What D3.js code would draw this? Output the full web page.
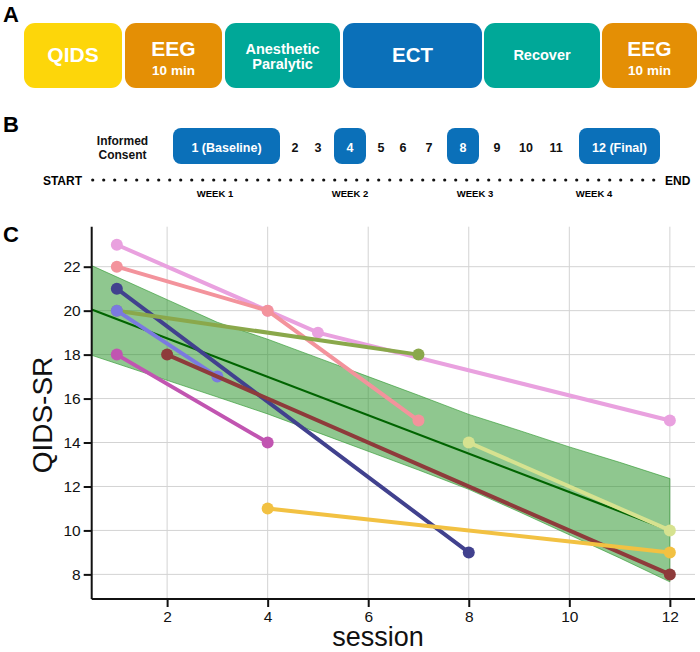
<!DOCTYPE html>
<html><head><meta charset="utf-8">
<script src="https://cdn.jsdelivr.net/npm/d3@7"></script>
<style>body{margin:0;background:#fff}svg{display:block}text{font-family:"Liberation Sans",Arial,sans-serif}</style>
</head><body><svg id="c" width="700" height="652"></svg>
<script>
// ---- Panel A: protocol steps
const stepLabels = [["QIDS"],["EEG","10 min"],["Anesthetic","Paralytic"],["ECT"],["Recover"],["EEG","10 min"]];
const stepColors = ["#fdd60a","#e48f05","#00a898","#0b70b9","#00a898","#e48f05"];
// ---- Panel B: schedule
const sessionLabels = ["1 (Baseline)","2","3","4","5","6","7","8","9","10","11","12 (Final)"];
const qidsSessions = ["1 (Baseline)","4","8","12 (Final)"];
const weekLabels = ["WEEK 1","WEEK 2","WEEK 3","WEEK 4"];
// ---- Panel C: data
const subjectSessions = [[1,4,5,12],[1,4,7],[1,8],[1,7],[1,3],[1,4],[2,12],[4,12],[8,12]];
const subjectScores   = [[23,20,19,15],[22,20,15],[21,9],[20,18],[20,17],[18,14],[18,8],[11,9],[14,10]];
const subjectColors = ["#e9a1df","#f3939c","#41418e","#8aa84b","#7b79e0","#c155b1","#8e3b3b","#f2c142","#d6e290"];
const fitX = [0.5, 12];
const fitY = [20.05, 10.0];
const bandX     = [0.5, 2, 3, 4, 5, 6, 7, 8, 9, 10, 11, 12];
const bandUpper = [22.05,20.5,19.47,18.7,17.85,17.0,16.15,15.28,14.55,13.8,13.1,12.36];
const bandLower = [17.97,16.83,16.07,15.3,14.45,13.6,12.75,11.87,10.85,9.8,8.75,7.66];
const xTicks = [2,4,6,8,10,12];
const yTicks = [8,10,12,14,16,18,20,22];

const svg = d3.select("#c");
const F = '"Liberation Sans",Arial,sans-serif';

// panel letters
[["A",3,22],["B",3,132],["C",3,242]].forEach(([t,x,y])=>svg.append("text").attr("x",x).attr("y",y).attr("font-size",22).attr("font-weight","bold").text(t));

// ---- Panel A
const stepX = d3.scaleOrdinal().domain(d3.range(6)).range([24,125,225,343,484,602]);
const stepW = [98,97,115,139,116,95];
const gA = svg.append("g");
stepLabels.forEach((lab,i)=>{
  const x0 = stepX(i), w = stepW[i], cx = x0 + w/2;
  gA.append("rect").attr("x",x0).attr("y",23).attr("width",w).attr("height",65).attr("rx",11).attr("fill",stepColors[i]);
  const t = gA.append("text").attr("fill","#fff").attr("font-weight","bold").attr("text-anchor","middle");
  if (lab[0]==="EEG") {
    t.append("tspan").attr("x",cx).attr("y",56).attr("font-size",21).text(lab[0]);
    t.append("tspan").attr("x",cx).attr("y",75).attr("font-size",13.5).text(lab[1]);
  } else if (lab.length===2) {
    t.append("tspan").attr("x",cx).attr("y",53.5).attr("font-size",14.5).text(lab[0]);
    t.append("tspan").attr("x",cx).attr("y",68.5).attr("font-size",14.5).text(lab[1]);
  } else {
    const fs = lab[0]==="Recover"?14.5:(lab[0]==="ECT"?20.5:21);
    t.append("tspan").attr("x",cx).attr("y",55).attr("dy","0.35em").attr("font-size",fs).text(lab[0]);
  }
});

// ---- Panel B
const gB = svg.append("g");
const ic = gB.append("text").attr("text-anchor","middle").attr("font-size",12).attr("font-weight","bold").attr("fill","#111");
ic.append("tspan").attr("x",122.5).attr("y",145).text("Informed");
ic.append("tspan").attr("x",122.5).attr("y",158.5).text("Consent");
const sessCenter = [226.5,295,318,350,381,403,429,463,497,526,556,619.5];
const boxW = {"1 (Baseline)":107,"4":32,"8":32,"12 (Final)":81};
sessionLabels.forEach((s,i)=>{
  const cx = sessCenter[i];
  const boxed = qidsSessions.includes(s);
  if (boxed) gB.append("rect").attr("x",cx-boxW[s]/2).attr("y",128).attr("width",boxW[s]).attr("height",36).attr("rx",8).attr("fill","#0b70b9");
  gB.append("text").attr("x",cx).attr("y",151.5).attr("text-anchor","middle").attr("font-size",12.5).attr("font-weight","bold").attr("fill",boxed?"#fff":"#111").text(s);
});
gB.append("text").attr("x",82).attr("y",184.5).attr("text-anchor","end").attr("font-size",12).attr("font-weight","bold").text("START");
gB.append("text").attr("x",665).attr("y",184.5).attr("font-size",12).attr("font-weight","bold").text("END");
gB.selectAll("circle.d").data(d3.range(52)).join("circle").attr("cx",d=>92.7+d*11).attr("cy",180).attr("r",1.6).attr("fill","#111");
const weekX = [215,350,475,594];
weekLabels.forEach((w,i)=>gB.append("text").attr("x",weekX[i]).attr("y",197).attr("text-anchor","middle").attr("font-size",9.5).attr("font-weight","bold").text(w));

// ---- Panel C
const x = d3.scaleLinear().domain([0.5,12.5]).range([91.7,695]);
const y = d3.scaleLinear().domain([6.88,23.82]).range([599,226.7]);
const gC = svg.append("g");
// grid
gC.selectAll("line.gx").data(xTicks).join("line").attr("x1",d=>x(d)).attr("x2",d=>x(d)).attr("y1",y.range()[0]).attr("y2",y.range()[1]).attr("stroke","#d3d3d3").attr("stroke-width",1);
gC.selectAll("line.gy").data(yTicks).join("line").attr("y1",d=>y(d)).attr("y2",d=>y(d)).attr("x1",x.range()[0]).attr("x2",x.range()[1]).attr("stroke","#d3d3d3").attr("stroke-width",1);
// band
const area = d3.area().x(d=>x(d[0])).y0(d=>y(d[1])).y1(d=>y(d[2]));
gC.append("path").datum(bandX.map((v,i)=>[v,bandLower[i],bandUpper[i]])).attr("d",area)
  .attr("fill","#1f8f1f").attr("fill-opacity",0.5).attr("stroke","#2a962a").attr("stroke-opacity",0.6).attr("stroke-width",1);
// fit line
const line = d3.line().x(d=>x(d[0])).y(d=>y(d[1]));
gC.append("path").datum(fitX.map((v,i)=>[v,fitY[i]])).attr("d",line).attr("fill","none").attr("stroke","#006400").attr("stroke-width",2.2);
// subjects
subjectSessions.forEach((ss,k)=>{
  const pts = ss.map((s,i)=>[s,subjectScores[k][i]]);
  gC.append("path").datum(pts).attr("d",line).attr("fill","none").attr("stroke",subjectColors[k]).attr("stroke-width",4).attr("stroke-linecap","round");
  gC.selectAll(null).data(pts).join("circle").attr("cx",d=>x(d[0])).attr("cy",d=>y(d[1])).attr("r",6).attr("fill",subjectColors[k]);
});
// axes
const xa = gC.append("g").attr("transform",`translate(0,599)`).call(d3.axisBottom(x).tickValues(xTicks).tickSize(8).tickPadding(4));
const ya = gC.append("g").attr("transform",`translate(91.7,0)`).call(d3.axisLeft(y).tickValues(yTicks).tickSize(8).tickPadding(3));
[xa,ya].forEach(a=>{
  a.select(".domain").attr("stroke","#111").attr("stroke-width",2);
  a.selectAll(".tick line").attr("stroke","#111").attr("stroke-width",2);
  a.selectAll(".tick text").attr("font-family",F).attr("font-size",15.5).attr("fill","#111");
});
xa.select(".domain").attr("d",`M${x.range()[0]},0H${x.range()[1]}`);
ya.select(".domain").attr("d",`M0,${y.range()[0]}V${y.range()[1]}`);
gC.append("text").attr("x",378).attr("y",646).attr("text-anchor","middle").attr("font-size",27).attr("fill","#111").text("session");
gC.append("text").attr("transform","translate(52,415) rotate(-90)").attr("text-anchor","middle").attr("font-size",28).attr("fill","#111").text("QIDS-SR");
</script></body></html>
